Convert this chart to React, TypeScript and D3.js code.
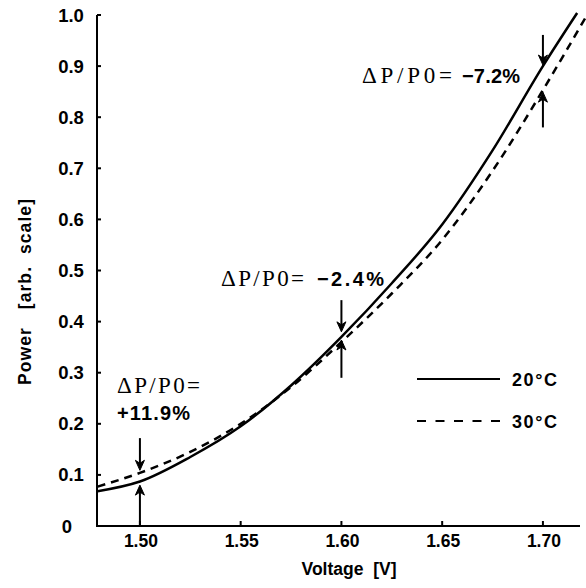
import React, { useEffect, useRef } from 'react';
import * as d3 from 'd3';

// 20°C and 30°C power curves
const voltage20 = [1.479, 1.50, 1.525, 1.55, 1.575, 1.60, 1.625, 1.65, 1.675, 1.70, 1.717];
const power20 = [0.068, 0.087, 0.135, 0.195, 0.275, 0.37, 0.475, 0.59, 0.735, 0.90, 1.004];
const voltage30 = [1.479, 1.50, 1.525, 1.55, 1.575, 1.60, 1.625, 1.65, 1.675, 1.70, 1.721];
const power30 = [0.077, 0.104, 0.145, 0.2, 0.272, 0.36, 0.455, 0.56, 0.695, 0.853, 0.994];

const xTicks = [1.50, 1.55, 1.60, 1.65, 1.70];
const yTicks = [0, 0.1, 0.2, 0.3, 0.4, 0.5, 0.6, 0.7, 0.8, 0.9, 1.0];

// arrows: voltage, start value, tip value
const arrowX = [1.50, 1.50, 1.60, 1.60, 1.70, 1.70];
const arrowFrom = [0.172, 0, 0.442, 0.29, 0.961, 0.78];
const arrowTo = [0.109, 0.080, 0.38, 0.364, 0.902, 0.849];

const changeLabels = ['+11.9%', '−2.4%', '−7.2%'];
const legendLabels = ['20°C', '30°C'];

const App = () => {
    const ref = useRef<SVGSVGElement>(null);

    useEffect(() => {
        const svg = d3.select(ref.current);
        svg.selectAll('*').remove();

        const x = d3.scaleLinear().domain([1.4787, 1.7184]).range([97, 580]);
        const y = d3.scaleLinear().domain([0, 1]).range([526, 15]);
        const sans = "'Liberation Sans', Arial, sans-serif";
        const serif = "'Liberation Serif', 'Times New Roman', serif";

        // axes
        const ax = svg.append('g').attr('stroke', '#000').attr('stroke-width', 2);
        ax.append('line').attr('x1', x.range()[0]).attr('x2', x.range()[0])
            .attr('y1', y(1)).attr('y2', y(0) + 1);
        ax.append('line').attr('x1', x.range()[0] - 1).attr('x2', x.range()[1])
            .attr('y1', y(0)).attr('y2', y(0));
        ax.selectAll('.yt').data(yTicks).enter().append('line')
            .attr('x1', x.range()[0]).attr('x2', x.range()[0] + 4)
            .attr('y1', d => y(d)).attr('y2', d => y(d));
        ax.selectAll('.xt').data(xTicks).enter().append('line')
            .attr('x1', d => x(d)).attr('x2', d => x(d))
            .attr('y1', y(0)).attr('y2', y(0) - 5);

        svg.selectAll('.ylab').data(yTicks).enter().append('text')
            .attr('x', d => d === 0 ? 67 : 71)
            .attr('y', d => y(d) + 6.5)
            .attr('text-anchor', 'middle')
            .attr('font-family', sans).attr('font-weight', 'bold').attr('font-size', 18.5)
            .text(d => d === 0 ? '0' : d.toFixed(1));

        svg.selectAll('.xlab').data(xTicks).enter().append('text')
            .attr('x', d => x(d) + 1)
            .attr('y', y(0) + 21)
            .attr('text-anchor', 'middle')
            .attr('font-family', sans).attr('font-weight', 'bold').attr('font-size', 17.5)
            .text(d => d.toFixed(2));

        svg.append('text')
            .attr('x', 349).attr('y', 575)
            .attr('text-anchor', 'middle')
            .attr('font-family', sans).attr('font-weight', 'bold').attr('font-size', 17.5)
            .attr('xml:space', 'preserve')
            .text('Voltage  [V]');

        svg.append('text')
            .attr('transform', 'translate(31,292) rotate(-90)')
            .attr('text-anchor', 'middle')
            .attr('font-family', sans).attr('font-weight', 'bold').attr('font-size', 17.5)
            .attr('textLength', 186).attr('lengthAdjust', 'spacing')
            .attr('xml:space', 'preserve')
            .text('Power   [arb.  scale]');

        // curves
        const line = d3.line<number>()
            .x(d => x(d[0]))
            .y(d => y(d[1]))
            .curve(d3.curveMonotoneX);
        const pts20 = voltage20.map((v, i) => [v, power20[i]]);
        const pts30 = voltage30.map((v, i) => [v, power30[i]]);

        svg.append('path').datum(pts30)
            .attr('d', line as any)
            .attr('fill', 'none').attr('stroke', '#000').attr('stroke-width', 2.5)
            .attr('stroke-dasharray', '8 6');
        svg.append('path').datum(pts20)
            .attr('d', line as any)
            .attr('fill', 'none').attr('stroke', '#000').attr('stroke-width', 2.5);

        // arrows
        const arrows = svg.append('g');
        arrowX.forEach((v, i) => {
            const px = x(v);
            const y0 = y(arrowFrom[i]);
            const y1 = y(arrowTo[i]);
            const dir = y1 > y0 ? 1 : -1;
            arrows.append('line')
                .attr('x1', px).attr('x2', px)
                .attr('y1', y0).attr('y2', y1 - dir * 4)
                .attr('stroke', '#000').attr('stroke-width', 2);
            arrows.append('path')
                .attr('d', `M${px},${y1} L${px - 4.5},${y1 - dir * 10} L${px},${y1 - dir * 7} L${px + 4.5},${y1 - dir * 10} Z`)
                .attr('fill', '#000').attr('stroke', '#000').attr('stroke-width', 1);
        });

        // annotations
        const ann = [
            { dx: 117, dy: 393, px: 117, py: 420, pw: 73 },
            { dx: 221, dy: 286, px: 317, py: 286, pw: 67 },
            { dx: 362, dy: 83, px: 462, py: 83, pw: 58 },
        ];
        ann.forEach((a, i) => {
            svg.append('text')
                .attr('x', a.dx).attr('y', a.dy)
                .attr('font-family', serif).attr('font-size', 23)
                .attr('textLength', i === 2 ? 90 : 83).attr('lengthAdjust', 'spacing')
                .text('ΔP/P0=');
            svg.append('text')
                .attr('x', a.px).attr('y', a.py)
                .attr('font-family', sans).attr('font-weight', 'bold').attr('font-size', 20)
                .attr('textLength', a.pw).attr('lengthAdjust', 'spacing')
                .text(changeLabels[i]);
        });

        // legend
        const leg = svg.append('g');
        [379, 421].forEach((ly, i) => {
            leg.append('line')
                .attr('x1', 417).attr('x2', 500).attr('y1', ly).attr('y2', ly)
                .attr('stroke', '#000').attr('stroke-width', 2)
                .attr('stroke-dasharray', i === 1 ? '9 9.5' : null);
            leg.append('text')
                .attr('x', 512).attr('y', ly + 6.5)
                .attr('font-family', sans).attr('font-weight', 'bold').attr('font-size', 18)
                .attr('textLength', 45).attr('lengthAdjust', 'spacing')
                .text(legendLabels[i]);
        });
    }, []);

    return (
        <svg ref={ref} width={586} height={588}
            style={{ position: 'absolute', left: 0, top: 0, background: '#fff' }} />
    );
};

export default App;
